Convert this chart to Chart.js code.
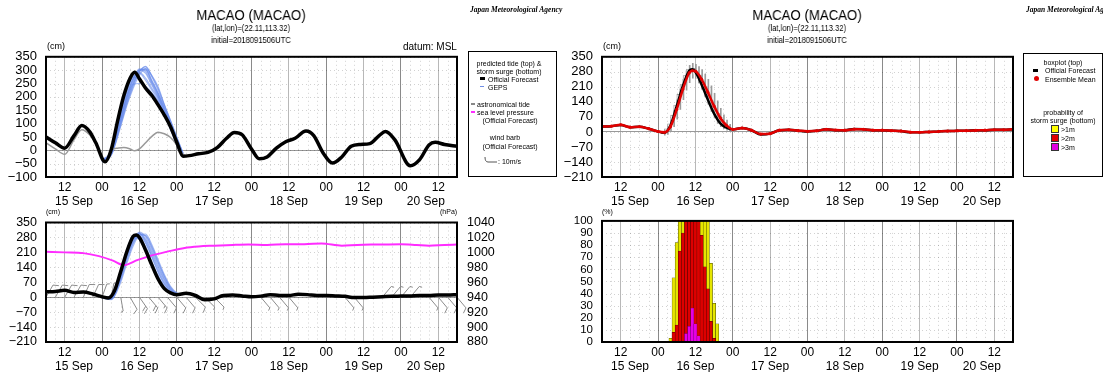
<!DOCTYPE html>
<html>
<head>
<meta charset="utf-8">
<title>MACAO (MACAO)</title>
<script src="https://cdn.jsdelivr.net/npm/chart.js@4.4.1/dist/chart.umd.min.js"></script>
<style>
  html, body { margin: 0; padding: 0; background: #fff; }
  body { position: relative; width: 1103px; height: 376px; overflow: hidden; font-family: "Liberation Sans", Arial, sans-serif; }
  canvas { position: absolute; }
  .t { position: absolute; white-space: nowrap; line-height: 1; color: #000; will-change: transform; }
  .box { position: absolute; border: 1.5px solid #000; box-sizing: border-box; }
  .sw { position: absolute; }
</style>
</head>
<body>
<canvas id="tideChart" width="465" height="168" style="left:0;top:40px"></canvas>
<canvas id="boxChart" width="465" height="168" style="left:556px;top:40px"></canvas>
<canvas id="surgeChart" width="500" height="168" style="left:0;top:205px"></canvas>
<canvas id="probChart" width="465" height="168" style="left:556px;top:205px"></canvas>
<div class="box" style="left:468px;top:51px;width:89px;height:126px"></div>
<div class="box" style="left:1023px;top:53px;width:80px;height:124px"></div>
<svg style="position:absolute;left:484px;top:154px" width="14" height="10"><path d="M13 8 H4 Q1 8 1 3" stroke="#555" fill="none" stroke-width="1"/></svg>
<script>
// hours counted from 15 Sep 00UTC
const tickHours = [12, 24, 36, 48, 60, 72, 84, 96, 108, 120, 132];
const tickLabels = ['12', '00', '12', '00', '12', '00', '12', '00', '12', '00', '12'];
const dateHours = [15, 36, 60, 84, 108, 128];
const dateLabels = ['15 Sep', '16 Sep', '17 Sep', '18 Sep', '19 Sep', '20 Sep'];

const tideTicks = [-100, -50, 0, 50, 100, 150, 200, 250, 300, 350];
const surgeTicks = [-210, -140, -70, 0, 70, 140, 210, 280, 350];
const pressureTicks = [880, 900, 920, 940, 960, 980, 1000, 1020, 1040];
const probTicks = [0, 10, 20, 30, 40, 50, 60, 70, 80, 90, 100];

// predicted tide (cm), official forecast
const tideHours = [6, 9, 12, 15, 17.5, 20, 22, 25, 27, 29, 31, 33, 34.5, 36, 38, 40, 42, 44, 46, 48, 50, 52, 55, 58, 61, 64, 66.5, 69, 72, 74.5,
  77, 80, 83, 86, 89.5, 92, 95, 98, 101, 104, 107, 110, 113, 115, 118, 123, 126, 129, 131, 134, 138];
const tideOfficial = [50, 28, 8, 55, 93, 70, 28, -43, 5, 110, 205, 270, 292, 268, 232, 205, 170, 132, 88, 30, -22, -20, -13, -8, 10, 45, 67, 58, 5, -32,
  -25, 8, 32, 45, 72, 55, -10, -48, -25, 15, 22, 25, 55, 70, 40, -58, -35, 20, 30, 22, 15];

// astronomical tide (cm), joins the forecast after 17 Sep 00
const astroHours = [6, 9, 12, 15, 17.5, 20, 22, 25, 27, 29, 31, 33, 34.5, 36, 38, 40, 42, 44, 46, 48, 50, 52];
const astroTide = [28, 5, -15, 40, 77, 58, 25, -45, 2, 8, 10, 5, -2, 5, 28, 52, 68, 62, 48, 20, -15, -20];

// GEPS members, predicted tide (cm)
const gepsHours = [24, 27, 30, 32, 34, 36, 38, 40, 42, 44, 46, 48, 50];
const gepsTide = [
  [-40, -12, 110, 190, 255, 300, 305, 262, 215, 160, 100, 38, -15],
  [-38, -8, 125, 205, 270, 305, 295, 250, 205, 150, 92, 32, -18],
  [-42, -15, 100, 180, 245, 295, 312, 275, 225, 168, 108, 45, -12],
  [-36, 0, 145, 225, 280, 292, 270, 232, 198, 145, 88, 28, -20],
  [-40, -10, 115, 198, 262, 302, 300, 255, 210, 155, 98, 36, -16],
  [-39, -6, 130, 212, 272, 288, 262, 225, 192, 140, 85, 26, -20],
  [-44, -18, 90, 168, 232, 282, 306, 280, 238, 172, 112, 50, -10],
  [-37, -4, 138, 220, 275, 265, 240, 215, 185, 135, 80, 22, -22],
  [-41, -13, 105, 186, 250, 298, 304, 258, 212, 158, 102, 40, -14],
  [-38, -7, 120, 200, 248, 250, 238, 212, 182, 132, 78, 20, -24],
  [-43, -16, 95, 175, 240, 292, 314, 278, 232, 170, 110, 48, -11],
  [-39, -9, 118, 202, 265, 300, 288, 244, 200, 148, 94, 34, -17]
];

// storm surge (cm)
const surgeHours = [6, 9, 12, 15, 18, 21, 24, 26, 28, 30, 32, 34, 35, 36, 38, 40, 42, 44, 46, 48, 51, 54, 57, 60, 63, 66, 69, 72, 75, 78,
  81, 84, 87, 90, 93, 96, 99, 102, 105, 108, 111, 114, 117, 120, 123, 126, 129, 132, 135, 138];
const surgeOfficial = [25, 27, 32, 22, 24, 15, 2, -4, 30, 120, 215, 285, 292, 280, 220, 150, 85, 40, 20, 12, 18, 8, -12, -8, 8, 10, 6, 2, 5, 12,
  8, 8, 14, 12, 8, 8, 6, 4, -2, -2, 0, 2, 4, 5, 6, 8, 8, 10, 10, 12];
const ensembleMean = [25, 27, 33, 22, 24, 15, 2, -2, 25, 105, 200, 275, 285, 283, 245, 185, 120, 65, 30, 12, 18, 8, -10, -8, 8, 10, 6, 3, 5, 12,
  9, 8, 13, 12, 8, 8, 6, 4, -1, -2, 0, 2, 4, 5, 6, 7, 8, 10, 10, 12];

// GEPS members, storm surge (cm)
const gepsSurge = [
  [0, -6, 95, 195, 265, 300, 272, 212, 142, 82, 36, 16, 14],
  [2, -2, 110, 205, 280, 300, 258, 192, 122, 66, 29, 13, 15],
  [-2, -10, 80, 172, 250, 295, 288, 232, 162, 96, 46, 18, 13],
  [3, 2, 130, 225, 290, 285, 236, 166, 101, 51, 23, 11, 15],
  [0, -8, 90, 188, 262, 305, 282, 222, 152, 86, 39, 15, 14],
  [1, -4, 105, 200, 275, 290, 252, 187, 117, 61, 26, 12, 15],
  [-3, -12, 70, 160, 240, 290, 296, 246, 176, 106, 51, 21, 12],
  [2, 0, 120, 215, 280, 270, 226, 161, 96, 49, 21, 10, 15],
  [0, -7, 100, 196, 270, 298, 266, 202, 132, 73, 33, 14, 14],
  [-1, -9, 85, 180, 255, 292, 290, 237, 167, 99, 43, 17, 13]
];

// ensemble boxplot (cm)
const boxHours = [26, 27, 28, 29, 30, 31, 32, 33, 34, 35, 36, 37, 38, 39, 40, 41, 42, 43, 44, 45, 46, 47];
const whiskLow = [-15, -12, 0, 25, 60, 105, 150, 195, 230, 250, 250, 230, 200, 165, 130, 95, 65, 40, 25, 15, 8, 5];
const whiskHigh = [10, 25, 55, 100, 150, 200, 245, 285, 310, 320, 315, 305, 290, 270, 245, 215, 180, 145, 110, 80, 55, 35];
const boxLow = [-8, 0, 12, 42, 85, 135, 180, 225, 258, 272, 268, 250, 225, 195, 160, 125, 95, 68, 45, 30, 18, 12];
const boxHigh = [4, 15, 38, 78, 125, 175, 220, 262, 290, 298, 296, 285, 265, 238, 210, 178, 145, 112, 85, 60, 42, 28];

// sea level pressure (hPa)
const pressHours = [6, 12, 18, 23, 27.5, 31, 35.5, 40, 45, 50.5, 55, 60, 66, 71, 77, 83, 89, 94.5, 101, 106, 112, 120, 125, 129, 134, 138];
const pressure = [1001, 1000, 999, 995, 989, 983, 990, 996, 1001, 1006, 1008, 1009, 1010, 1010.5, 1010, 1011, 1011, 1012, 1009, 1010,
  1010.5, 1011, 1010, 1009, 1010, 1010.5];

// wind (direction in degrees, speed in m/s)
const windHours = [6, 9, 12, 15, 18, 21, 24, 27, 30, 33, 36, 39, 42, 45, 48, 51, 54, 57, 60, 63, 66, 69, 72, 75, 78,
  81, 84, 87, 90, 93, 96, 99, 102, 105, 108, 111, 114, 117, 120, 123, 126, 129, 132, 135, 138];
const windDir = [30, 30, 30, 30, 25, 25, 20, 10, 170, 150, 145, 140, 140, 140, 140, 140, 135, 135, 135, 0, 0, 0, 0, 140, 140,
  140, 140, 0, 0, 0, 0, 0, 140, 140, 0, 0, 40, 40, 40, 40, 0, 140, 140, 140, 140];
const windSpeed = [8, 8, 9, 9, 8, 8, 7, 5, 5, 12, 18, 20, 15, 12, 10, 8, 8, 7, 6, 0, 0, 0, 0, 5, 7,
  7, 5, 0, 0, 0, 0, 0, 5, 5, 0, 0, 5, 7, 7, 6, 0, 7, 8, 8, 8];

// probability of storm surge (%)
const probHours = [28, 29, 30, 31, 32, 33, 34, 35, 36, 37, 38, 39, 40, 41, 42, 43, 44];
const probOver1m = [3, 53, 82, 100, 100, 100, 100, 100, 100, 100, 100, 100, 100, 65, 32, 15, 0];
const probOver2m = [0, 8, 14, 75, 90, 100, 100, 100, 100, 100, 88, 62, 44, 17, 3, 0, 0];
const probOver3m = [0, 0, 0, 0, 0, 7, 13, 28, 15, 5, 0, 0, 0, 0, 0, 0, 0];

Chart.defaults.font.family = '"Liberation Sans", Arial, sans-serif';
Chart.defaults.color = '#000';
Chart.defaults.animation = false;
Chart.defaults.plugins.legend.display = false;
Chart.defaults.plugins.tooltip.enabled = false;
Chart.defaults.elements.point.radius = 0;
Chart.defaults.elements.line.cubicInterpolationMode = 'monotone';

const pts = (xs, ys) => xs.map((x, i) => ({ x: x, y: ys[i] }));
const minus = v => String(v).replace('-', '\u2212');

// dotted background grid
const dotGrid = {
  id: 'dotGrid',
  beforeDatasetsDraw(chart) {
    const { ctx, chartArea: a, scales } = chart;
    ctx.save();
    ctx.strokeStyle = 'rgba(0,0,0,0.18)';
    ctx.lineWidth = 1;
    ctx.setLineDash([1, 3]);
    ctx.beginPath();
    for (let h = 9; h < 138; h += 3) {
      if (h % 12 === 0) continue;
      const x = Math.round(scales.x.getPixelForValue(h)) + 0.5;
      ctx.moveTo(x, a.top); ctx.lineTo(x, a.bottom);
    }
    scales.y.ticks.forEach(t => {
      const y = Math.round(scales.y.getPixelForValue(t.value)) + 0.5;
      ctx.moveTo(a.left, y); ctx.lineTo(a.right, y);
    });
    ctx.stroke();
    ctx.restore();
  }
};

// black frame round the plot
const frame = {
  id: 'frame',
  afterDatasetsDraw(chart) {
    const { ctx, chartArea: a } = chart;
    ctx.save();
    ctx.strokeStyle = '#000';
    ctx.lineWidth = 2;
    ctx.strokeRect(a.left, a.top, a.right - a.left, a.bottom - a.top);
    ctx.restore();
  }
};

// wind barbs on the 0 cm line
const windBarbs = {
  id: 'windBarbs',
  beforeDatasetsDraw(chart) {
    const { ctx, scales } = chart;
    const y0 = scales.y.getPixelForValue(0);
    ctx.save();
    ctx.strokeStyle = '#8c8c8c';
    ctx.lineWidth = 1;
    ctx.beginPath();
    windHours.forEach((h, i) => {
      if (!windSpeed[i]) return;
      const a = windDir[i] * Math.PI / 180;
      const ux = Math.sin(a), uy = -Math.cos(a);
      const bx = scales.x.getPixelForValue(h);
      const tx = bx + ux * 14, ty = y0 + uy * 14;
      ctx.moveTo(bx, y0); ctx.lineTo(tx, ty);
      let n = Math.round(windSpeed[i] / 5), k = 0;
      while (n > 0) {
        const len = n >= 2 ? 6 : 3;
        const px = tx - ux * k * 3, py = ty - uy * k * 3;
        ctx.moveTo(px, py);
        ctx.lineTo(px + (-uy * 0.9 + ux * 0.4) * len, py + (ux * 0.9 + uy * 0.4) * len);
        n -= 2; k++;
      }
    });
    ctx.stroke();
    ctx.restore();
  }
};

function timeScales() {
  return {
    x: {
      type: 'linear', min: 6, max: 138, offset: false,
      afterBuildTicks: s => { s.ticks = tickHours.map(v => ({ value: v })); },
      afterFit: s => { s.height = 14; },
      ticks: { autoSkip: false, maxRotation: 0, padding: 3, font: { size: 12 }, color: '#000', callback: (v, i) => tickLabels[i] },
      grid: { drawTicks: false, offset: false, lineWidth: 1, color: c => (c.tick && c.tick.value % 24 === 0) ? '#8a8a8a' : '#b8b8b8' },
      border: { display: false }
    },
    xd: {
      type: 'linear', position: 'bottom', weight: 1, min: 6, max: 138, offset: false,
      afterBuildTicks: s => { s.ticks = dateHours.map(v => ({ value: v })); },
      afterFit: s => { s.height = 16; },
      ticks: { autoSkip: false, maxRotation: 0, padding: 3, font: { size: 12 }, color: '#000', callback: (v, i) => dateLabels[i] },
      grid: { display: false, drawTicks: false },
      border: { display: false }
    }
  };
}

function valueAxis(values, size, zeroLine) {
  return {
    min: values[0], max: values[values.length - 1],
    afterBuildTicks: s => { s.ticks = values.map(v => ({ value: v })); },
    afterFit: s => { s.width = 46; },
    ticks: { autoSkip: false, padding: 9, font: { size: size }, color: '#000', callback: v => minus(v) },
    grid: { drawTicks: false, color: c => (zeroLine && c.tick && c.tick.value === 0) ? '#999' : 'rgba(0,0,0,0)' },
    border: { display: false }
  };
}

const geps = 'rgba(105,140,235,0.6)';

// predicted tide
new Chart(document.getElementById('tideChart'), {
  type: 'line',
  data: {
    datasets: [
      { label: 'Official Forecast', data: pts(tideHours, tideOfficial), borderColor: '#000', borderWidth: 3.5, order: 0 },
      { label: 'astronomical tide', data: pts(astroHours, astroTide), borderColor: '#999', borderWidth: 1.5, order: 1 }
    ].concat(gepsTide.map(m => ({ label: 'GEPS', data: pts(gepsHours, m), borderColor: geps, borderWidth: 1.2, order: 2 })))
  },
  options: {
    responsive: false,
    layout: { padding: { top: 13, right: 8, bottom: 1, left: 0 } },
    scales: Object.assign(timeScales(), { y: valueAxis(tideTicks, 13, true) })
  },
  plugins: [dotGrid, frame]
});

// boxplot of storm surge
new Chart(document.getElementById('boxChart'), {
  type: 'line',
  data: {
    datasets: [
      { label: 'Ensemble Mean', data: pts(surgeHours, ensembleMean), borderColor: '#e00000', borderWidth: 2.5,
        pointRadius: 1.6, pointBackgroundColor: '#e00000', pointBorderWidth: 0, order: 0 },
      { label: 'Official Forecast', data: pts(surgeHours, surgeOfficial), borderColor: '#000', borderWidth: 2.5, order: 1 },
      { type: 'bar', label: 'box', data: boxHours.map((h, i) => ({ x: h, y: [boxLow[i], boxHigh[i]] })),
        backgroundColor: 'rgba(255,255,255,0.6)', borderColor: '#8a8a8a', borderWidth: 0.6, barThickness: 3, order: 2 },
      { type: 'bar', label: 'whisker', data: boxHours.map((h, i) => ({ x: h, y: [whiskLow[i], whiskHigh[i]] })),
        backgroundColor: '#9a9a9a', barThickness: 1, order: 3 }
    ]
  },
  options: {
    responsive: false,
    layout: { padding: { top: 13, right: 8, bottom: 1, left: 0 } },
    scales: Object.assign(timeScales(), { y: valueAxis(surgeTicks, 13, true) })
  },
  plugins: [dotGrid, frame]
});

// storm surge, pressure and wind
const surgeScales = Object.assign(timeScales(), {
  y: valueAxis(surgeTicks, 12.5, true),
  y1: {
    position: 'right', min: pressureTicks[0], max: pressureTicks[pressureTicks.length - 1],
    afterBuildTicks: s => { s.ticks = pressureTicks.map(v => ({ value: v })); },
    afterFit: s => { s.width = 43; },
    ticks: { autoSkip: false, padding: 10, font: { size: 12.5 }, color: '#000', callback: v => String(v) },
    grid: { display: false, drawTicks: false },
    border: { display: false }
  }
});
new Chart(document.getElementById('surgeChart'), {
  type: 'line',
  data: {
    datasets: [
      { label: 'Official Forecast', data: pts(surgeHours, surgeOfficial), borderColor: '#000', borderWidth: 3.5, order: 0 },
      { label: 'sea level pressure', data: pts(pressHours, pressure), yAxisID: 'y1', borderColor: '#ff2cff', borderWidth: 2, order: 1 }
    ].concat(gepsSurge.map(m => ({ label: 'GEPS', data: pts(gepsHours, m), borderColor: geps, borderWidth: 1.2, order: 2 })))
  },
  options: {
    responsive: false,
    layout: { padding: { top: 13, right: 0, bottom: 1, left: 0 } },
    scales: surgeScales
  },
  plugins: [dotGrid, windBarbs, frame]
});

// probability of storm surge
new Chart(document.getElementById('probChart'), {
  type: 'bar',
  data: {
    datasets: [
      { label: '>3m', data: pts(probHours, probOver3m), backgroundColor: '#e600e6', borderColor: '#700070', borderWidth: 0.5 },
      { label: '>2m', data: pts(probHours, probOver2m), backgroundColor: '#dd0000', borderColor: '#500000', borderWidth: 0.5 },
      { label: '>1m', data: pts(probHours, probOver1m), backgroundColor: '#e6e600', borderColor: '#444400', borderWidth: 0.5 }
    ]
  },
  options: {
    responsive: false,
    layout: { padding: { top: 13, right: 8, bottom: 1, left: 0 } },
    datasets: { bar: { grouped: false, categoryPercentage: 1, barPercentage: 1 } },
    scales: Object.assign(timeScales(), { y: valueAxis(probTicks, 11.5, false) })
  },
  plugins: [dotGrid, frame]
});

// texts
function put(text, x, y, size, align, css) {
  const d = document.createElement('div');
  d.className = 't';
  d.textContent = text;
  d.style.fontSize = size + 'px';
  d.style.top = (y - size / 2) + 'px';
  let tf = '';
  if (align === 'center') { d.style.left = x + 'px'; tf = 'translateX(-50%)'; }
  else if (align === 'right') { d.style.right = (1103 - x) + 'px'; }
  else { d.style.left = x + 'px'; }
  if (css) Object.assign(d.style, css);
  if (css && css.sx) { tf += ' scaleX(' + css.sx + ')'; }
  d.style.transform = tf;
  document.body.appendChild(d);
  return d;
}
function swatch(x, y, w, h, color, extra) {
  const d = document.createElement('div');
  d.className = 'sw';
  Object.assign(d.style, { left: x + 'px', top: y + 'px', width: w + 'px', height: h + 'px', background: color }, extra || {});
  document.body.appendChild(d);
}

const jma = { fontFamily: '"Liberation Serif", serif', fontStyle: 'italic', fontWeight: 'bold' };
[0, 556].forEach(dx => {
  put('MACAO (MACAO)', 251 + dx, 14, 15, 'center', { sx: 0.88 });
  put('(lat,lon)=(22.11,113.32)', 251 + dx, 28, 9.5, 'center', { sx: 0.8 });
  put('initial=2018091506UTC', 251 + dx, 40, 9.5, 'center', { sx: 0.8 });
  put('Japan Meteorological Agency', 470 + dx, 10, 7.5, 'left', jma);
  put('(cm)', 47 + dx, 46, 9, 'left');
});
put('datum: MSL', 457, 47, 10, 'right');
put('(cm)', 46, 211, 7, 'left');
put('(hPa)', 457, 211, 7, 'right');
put('(%)', 602, 211, 7, 'left');

// legend, left
put('predicted tide (top) &', 509, 63, 7, 'center');
put('storm surge (bottom)', 509, 71, 7, 'center');
swatch(480, 77, 5, 3, '#000'); put('Official Forecast', 488, 79, 7);
swatch(480, 86, 4, 1, '#6f8fe8'); put('GEPS', 488, 87, 7);
swatch(471, 103, 4, 1.5, '#888'); put('astronomical tide', 477, 104, 7);
swatch(471, 111, 4, 2, '#ff2cff'); put('sea level pressure', 477, 112, 7);
put('(Official Forecast)', 510, 120, 7, 'center');
put('wind barb', 505, 137, 7, 'center');
put('(Official Forecast)', 510, 146, 7, 'center');
put(': 10m/s', 498, 161, 7);

// legend, right
put('boxplot (top)', 1063, 62, 7, 'center');
swatch(1033, 69, 5, 3, '#000'); put('Official Forecast', 1045, 70, 7);
swatch(1034, 76, 5, 5, '#e00000', { borderRadius: '50%' }); put('Ensemble Mean', 1045, 79, 7);
put('probability of', 1063, 112, 7, 'center');
put('storm surge (bottom)', 1063, 120, 7, 'center');
swatch(1052, 126, 6, 6, '#ffff00', { outline: '0.5px solid #333' }); put('>1m', 1061, 129, 7);
swatch(1052, 135, 6, 6, '#e00000', { outline: '0.5px solid #333' }); put('>2m', 1061, 138, 7);
swatch(1052, 144, 6, 6, '#e000e0', { outline: '0.5px solid #333' }); put('>3m', 1061, 147, 7);
</script>
</body>
</html>
